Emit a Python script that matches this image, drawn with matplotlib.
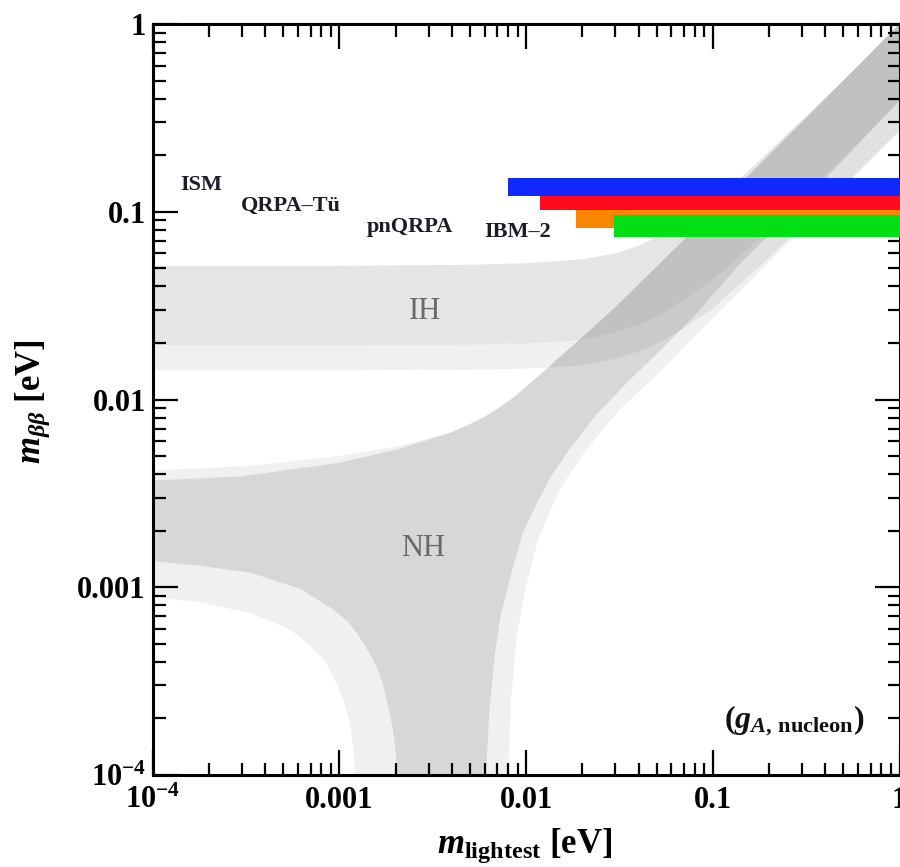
import matplotlib
matplotlib.use("Agg")
import matplotlib.pyplot as plt

plt.rcParams["font.family"] = ["Liberation Serif", "DejaVu Serif"]
plt.rcParams["mathtext.fontset"] = "custom"
plt.rcParams["mathtext.rm"] = "Liberation Serif:bold"
plt.rcParams["mathtext.it"] = "Liberation Serif:italic:bold"
plt.rcParams["mathtext.bf"] = "Liberation Serif:bold"

# normal hierarchy, best-fit band (upper edge, then lower edge incl. the funnel)
nh_hi_x = [1e-4, 3e-4, 1e-3, 2e-3, 3e-3, 4e-3, 5e-3, 6e-3, 7e-3, 8.5e-3, 0.01, 0.0125, 0.015, 0.02,
           0.03, 0.05, 0.1, 0.3, 1.0]
nh_hi_y = [0.0037, 0.0039, 0.0046, 0.0054, 0.0061, 0.0067, 0.0074, 0.0081, 0.0089, 0.0102, 0.0117, 0.0142,
           0.0167, 0.0215, 0.031, 0.051, 0.101, 0.300, 1.0]
nh_lo_x = [1e-4, 1.8e-4, 3.3e-4, 6.2e-4, 9.3e-4, 1.1e-3, 1.24e-3, 1.4e-3, 1.58e-3, 1.7e-3, 1.79e-3,
           1.87e-3, 1.94e-3, 2.0e-3, 2.04e-3, 2.08e-3,
           6.05e-3, 6.1e-3, 6.35e-3, 6.8e-3, 7.3e-3, 8.2e-3, 9.6e-3, 0.0115, 0.0135, 0.017, 0.024,
           0.035, 0.05, 0.08, 0.14, 0.4, 1.0]
nh_lo_y = [1.38e-3, 1.30e-3, 1.20e-3, 9.8e-4, 7.6e-4, 6.6e-4, 5.7e-4, 4.7e-4, 3.8e-4, 3.1e-4, 2.5e-4,
           2.1e-4, 1.7e-4, 1.35e-4, 1.0e-4, 1e-6,
           1e-6, 1.0e-4, 2.2e-4, 4.4e-4, 7.0e-4, 1.12e-3, 1.95e-3, 2.85e-3, 3.85e-3, 5.4e-3, 8.4e-3,
           0.0124, 0.0175, 0.028, 0.053, 0.15, 0.39]

# normal hierarchy, 3 sigma band
nh3_hi_y = [0.0042, 0.0044, 0.0050, 0.0056, 0.0062, 0.0067, 0.0074, 0.0081, 0.0089, 0.0102, 0.0117, 0.0142,
            0.0167, 0.0215, 0.031, 0.051, 0.101, 0.300, 1.0]
nh3_lo_x = [1e-4, 1.8e-4, 3.3e-4, 5.0e-4, 6.0e-4, 7.0e-4, 8.0e-4, 8.9e-4, 9.7e-4, 1.05e-3, 1.11e-3,
            1.16e-3, 1.19e-3, 1.21e-3, 1.23e-3,
            7.98e-3, 8.0e-3, 8.3e-3, 8.85e-3, 9.9e-3, 0.0116, 0.0152, 0.0207, 0.0308, 0.05, 0.1, 0.3, 1.0]
nh3_lo_y = [8.9e-4, 8.3e-4, 7.3e-4, 6.2e-4, 5.55e-4, 4.85e-4, 4.25e-4, 3.64e-4, 3.05e-4, 2.52e-4, 2.08e-4,
            1.67e-4, 1.3e-4, 1.0e-4, 1e-6,
            1e-6, 1.0e-4, 2.52e-4, 5.27e-4, 9.75e-4, 1.81e-3, 3.34e-3, 5.3e-3, 8.6e-3, 0.0135, 0.027, 0.081, 0.27]

# inverted hierarchy
ih_x = [1e-4, 1e-3, 5e-3, 0.01, 0.02, 0.03, 0.04, 0.05, 0.07, 0.1, 0.15, 0.2, 0.5, 1.0]
ih_hi = [0.0514, 0.0515, 0.0522, 0.0532, 0.0558, 0.060, 0.066, 0.073, 0.088, 0.115, 0.160, 0.21, 0.50, 1.0]
ih_lo = [0.0195, 0.0195, 0.0196, 0.0199, 0.0207, 0.0228, 0.0250, 0.0276, 0.0340, 0.0437, 0.062, 0.080, 0.195, 0.39]
ih3_lo = [0.0143, 0.0143, 0.0144, 0.0146, 0.0152, 0.0165, 0.0180, 0.0198, 0.024, 0.0305, 0.044, 0.057, 0.137, 0.27]

# m_bb limits for the different nuclear matrix elements
nme_names = ["ISM", "QRPA\u2013T\u00fc", "pnQRPA", "IBM\u20132"]
nme_lo = [0.121, 0.102, 0.0815, 0.0733]
nme_hi = [0.152, 0.121, 0.102, 0.096]
nme_xmin = [0.008, 0.0119, 0.0185, 0.0294]
nme_colors = ["#1029ff", "#ff0b1e", "#f88600", "#00e014"]
label_x = [1.82e-4, 5.5e-4, 2.38e-3, 9.0e-3]
label_y = [0.1306, 0.101, 0.078, 0.0735]


def band(ax, x_hi, y_hi, x_lo, y_lo, alpha):
    xs = list(x_hi) + list(x_lo)[::-1]
    ys = list(y_hi) + list(y_lo)[::-1]
    ax.fill(xs, ys, color="black", alpha=alpha, lw=0, zorder=1)


fig = plt.figure(figsize=(9, 8.67), dpi=100)
ax = fig.add_axes([0.1697, 0.1061, 0.8298, 0.8662])
ax.set_xscale("log")
ax.set_yscale("log")

band(ax, ih_x, ih_hi, ih_x, ih3_lo, 0.058)
band(ax, ih_x, ih_hi, ih_x, ih_lo, 0.045)
band(ax, nh_hi_x, nh3_hi_y, nh3_lo_x, nh3_lo_y, 0.058)
band(ax, nh_hi_x, nh_hi_y, nh_lo_x, nh_lo_y, 0.1)

for xmin, lo, hi, c in zip(nme_xmin, nme_lo, nme_hi, nme_colors):
    ax.fill_between([xmin, 1.0], lo, hi, color=c, lw=0, zorder=3)

for name, x, y in zip(nme_names, label_x, label_y):
    ax.text(x, y, name, fontsize=16, fontweight="bold", ha="center", va="baseline",
            color="#1c1c2a", zorder=4)

ax.text(2.87e-3, 0.0296, "IH", fontsize=22, color="#6a6a6a", ha="center", va="center")
ax.text(2.8e-3, 1.6e-3, "NH", fontsize=22, color="#6a6a6a", ha="center", va="center")
ax.text(0.274, 1.96e-4, r"$(g_{A,\,\mathrm{nucleon}})$", fontsize=23,
        ha="center", va="center", color="#111111")

ax.set_xlim(1e-4, 1)
ax.set_ylim(1e-4, 1)

ticks = [1e-4, 1e-3, 1e-2, 0.1, 1]
tick_labels = [r"$10^{-4}$", "0.001", "0.01", "0.1", "1"]
ax.set_xticks(ticks)
ax.set_xticklabels(tick_labels, fontweight="bold")
ax.set_yticks(ticks)
ax.set_yticklabels(tick_labels, fontweight="bold")

ax.tick_params(which="both", direction="in", top=True, right=True, width=1.6, color="black")
ax.tick_params(which="major", length=18, labelsize=22)
ax.tick_params(axis="x", which="major", pad=8)
ax.tick_params(axis="y", which="major", pad=5)
ax.tick_params(which="minor", length=9)
for s in ax.spines.values():
    s.set_linewidth(2.2)

ax.set_xlabel(r"$m_{\mathrm{lightest}}$ [eV]", fontsize=25, fontweight="bold")
ax.set_ylabel(r"$m_{\beta\beta}$ [eV]", fontsize=25, fontweight="bold")
ax.xaxis.set_label_coords(0.4985, -0.068)
ax.yaxis.set_label_coords(-0.135, 0.497)

fig.savefig("out.png", dpi=100)
